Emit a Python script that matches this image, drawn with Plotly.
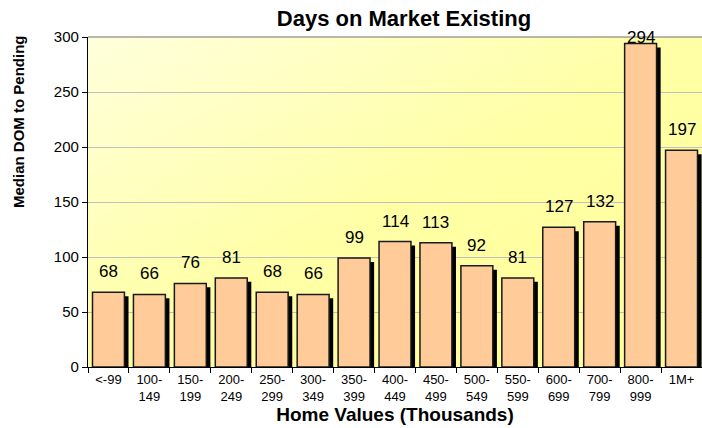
import base64
import plotly.graph_objects as go

categories = ["<-99", "100-<br>149", "150-<br>199", "200-<br>249", "250-<br>299", "300-<br>349",
              "350-<br>399", "400-<br>449", "450-<br>499", "500-<br>549", "550-<br>599",
              "600-<br>699", "700-<br>799", "800-<br>999", "1M+"]
values = [68, 66, 76, 81, 68, 66, 99, 114, 113, 92, 81, 127, 132, 294, 197]
y_ticks = [0, 50, 100, 150, 200, 250, 300]

FONT = "Arial, 'Liberation Sans', Helvetica, sans-serif"
BAR_W = 0.78
SHADOW_DX = 0.1
SHADOW_DY = 3.6

svg = ('<svg xmlns="http://www.w3.org/2000/svg" width="100" height="100" viewBox="0 0 100 100" '
       'preserveAspectRatio="none"><defs><linearGradient id="g" x1="0" y1="0" x2="1" y2="1">'
       '<stop offset="0" stop-color="#ffffdc"/><stop offset="0.5" stop-color="#ffffa6"/>'
       '<stop offset="1" stop-color="#ffff99"/></linearGradient></defs>'
       '<rect width="100" height="100" fill="url(#g)"/></svg>')
bg_uri = "data:image/svg+xml;base64," + base64.b64encode(svg.encode()).decode()

fig = go.Figure()
fig.add_trace(go.Bar(
    x=categories, y=[v - SHADOW_DY for v in values], width=BAR_W,
    offset=-BAR_W / 2 + SHADOW_DX, marker=dict(color="#000000", line=dict(width=0)),
    hoverinfo="skip", showlegend=False))
fig.add_trace(go.Bar(
    x=categories, y=values, width=BAR_W, offset=-BAR_W / 2,
    marker=dict(color="#ffcc99", line=dict(color="#1a1a1a", width=1.5)),
    showlegend=False))

ppu = 330 / 300
for c, v in zip(categories, values):
    bar_top = 330 - v * ppu
    gap = min(14, bar_top - 12 - (-5))
    fig.add_annotation(x=c, y=v, text=str(v), showarrow=False, yanchor="bottom",
                       yshift=gap - 5, font=dict(family=FONT, size=17, color="#000000"))

W, H, L, T, B = 702, 428, 88, 37, 61
fig.add_annotation(text="<b>Median DOM to Pending</b>", textangle=-90,
                   x=(18 - L) / (W - L), y=(H - B - 122) / (H - T - B),
                   xref="paper", yref="paper", xanchor="center", yanchor="middle", showarrow=False,
                   font=dict(family=FONT, size=15, color="#000000"))

fig.update_layout(
    width=W, height=H,
    margin=dict(l=L, r=0, t=T, b=B),
    paper_bgcolor="#ffffff", plot_bgcolor="rgba(0,0,0,0)",
    barmode="overlay",
    title=dict(text="<b>Days on Market Existing</b>", x=404 / W, xanchor="center",
               y=1 - 18 / H, yanchor="middle", font=dict(family=FONT, size=22, color="#000000")),
    images=[dict(source=bg_uri, xref="paper", yref="paper", x=0, y=1, sizex=1, sizey=1,
                 sizing="stretch", layer="below", xanchor="left", yanchor="top")],
    shapes=[dict(type="line", xref="paper", yref="paper", x0=0, x1=1, y0=1, y1=1,
                 line=dict(color="#707070", width=1.2))],
    xaxis=dict(showline=True, linecolor="#000000", linewidth=1.2, ticks="outside",
               tickson="boundaries", ticklen=5, tickcolor="#000000",
               tickfont=dict(family=FONT, size=13, color="#000000"), showgrid=False,
               title=dict(text="<b>Home Values (Thousands)</b>", standoff=2,
                          font=dict(family=FONT, size=19, color="#000000"))),
    yaxis=dict(range=[0, 300], tickvals=y_ticks, showline=True, linecolor="#000000", linewidth=1.2,
               ticks="outside", ticklen=5, tickcolor="#000000", gridcolor="#c0c0c0", gridwidth=1.3,
               tickfont=dict(family=FONT, size=15, color="#000000"), zeroline=False),
)
fig.write_html("out.html", config={"displayModeBar": False},
               post_script="document.body.style.margin='0';")
